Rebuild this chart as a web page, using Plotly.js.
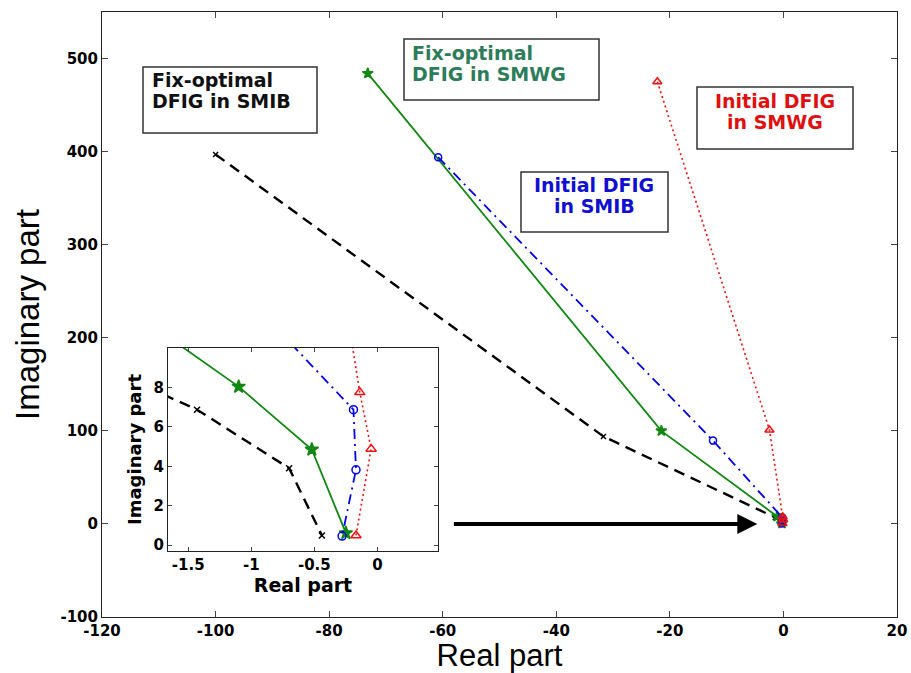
<!DOCTYPE html>
<html>
<head>
<meta charset="utf-8">
<script src="https://cdn.plot.ly/plotly-3.0.1.min.js"></script>
<style>
  html, body { margin: 0; padding: 0; background: #ffffff; }
  #chart { width: 911px; height: 673px; }
</style>
</head>
<body>
<div id="chart"></div>
<script>
// Root loci of the DFIG modes (real part, imaginary part)
const fixSmibRe  = [-100, -31.7, -1.43, -0.70, -0.44];
const fixSmibIm  = [397, 94, 6.87, 3.90, 0.49];
const fixSmwgRe  = [-73.2, -21.5, -1.10, -0.52, -0.25];
const fixSmwgIm  = [484, 100, 8.04, 4.85, 0.61];
const initSmibRe = [-60.8, -12.4, -0.19, -0.17, -0.28];
const initSmibIm = [394, 89.5, 6.87, 3.82, 0.46];
const initSmwgRe = [-22.2, -2.46, -0.14, -0.05, -0.17];
const initSmwgIm = [475, 101, 7.75, 4.88, 0.49];

// Tick values and labels
const mainXTicks = [-120, -100, -80, -60, -40, -20, 0, 20];
const mainXLabels = ["-120", "-100", "-80", "-60", "-40", "-20", "0", "20"];
const mainYTicks = [-100, 0, 100, 200, 300, 400, 500];
const mainYLabels = ["-100", "0", "100", "200", "300", "400", "500"];
const insetXTicks = [-1.5, -1, -0.5, 0];
const insetXLabels = ["-1.5", "-1", "-0.5", "0"];
const insetYTicks = [0, 2, 4, 6, 8];
const insetYLabels = ["0", "2", "4", "6", "8"];

// Box captions, one entry per line
const captionLines = [
  ["Fix-optimal", "DFIG in SMIB"],
  ["Fix-optimal", "DFIG in SMWG"],
  ["Initial DFIG", "in SMIB"],
  ["Initial DFIG", "in SMWG"]
];
const captionColors = ["#111111", "#2e7d5a", "#1010d0", "#e01010"];

// Page geometry (pixels) used to place boxes in paper coordinates
const W = 911, H = 673;
const M = { l: 102, r: 14, t: 12, b: 56 };
const PW = W - M.l - M.r, PH = H - M.t - M.b;
const px = v => (v - M.l) / PW;
const py = v => (H - M.b - v) / PH;

const styles = [
  { name: "Fix-optimal DFIG in SMIB", re: fixSmibRe, im: fixSmibIm, color: "#000000", width: 2.4, dash: "11px,7px",
    sym: "x-thin", mainSize: 5, insetSize: 6 },
  { name: "Fix-optimal DFIG in SMWG", re: fixSmwgRe, im: fixSmwgIm, color: "#118811", width: 1.8, dash: "solid",
    sym: "star", mainSize: 8, insetSize: 10 },
  { name: "Initial DFIG in SMIB", re: initSmibRe, im: initSmibIm, color: "#0000ee", width: 1.8, dash: "10px,5px,2px,5px",
    sym: "circle-open", mainSize: 7, insetSize: 8 },
  { name: "Initial DFIG in SMWG", re: initSmwgRe, im: initSmwgIm, color: "#ee1111", width: 1.6, dash: "2px,3px",
    sym: "triangle-up-open", mainSize: 8, insetSize: 9 }
];

const traces = [];
styles.forEach(s => {
  [["x", "y", s.mainSize], ["x2", "y2", s.insetSize]].forEach(([xa, ya, ms]) => {
    traces.push({
      type: "scatter", mode: "lines+markers", name: s.name, showlegend: false,
      x: s.re, y: s.im, xaxis: xa, yaxis: ya,
      line: { color: s.color, width: s.width, dash: s.dash },
      marker: { symbol: s.sym, size: ms, color: s.color, line: { color: s.color, width: 1.5 } }
    });
  });
});

const tickFont = { family: "DejaVu Sans", size: 15, color: "#000000", weight: "bold" };
const axisCommon = {
  showgrid: false, zeroline: false, showline: true, linecolor: "#222222", linewidth: 1,
  mirror: "ticks", ticks: "inside", tickcolor: "#444444", tickmode: "array"
};

// Box outlines (pixels) and the baselines of their two text lines
const boxes = [
  { x0: 143, y0: 67, x1: 317, y1: 133, tx: 152, base: [87, 108], align: "left" },
  { x0: 404, y0: 39, x1: 599, y1: 100, tx: 412, base: [60, 81], align: "left" },
  { x0: 521, y0: 172, x1: 668, y1: 232, tx: 594, base: [192, 213], align: "center" },
  { x0: 697, y0: 87, x1: 853, y1: 149, tx: 775, base: [108, 129], align: "center" }
];
const capFont = 19;
const descent = 0.236 * capFont;

const shapes = boxes.map(b => ({
  type: "rect", xref: "paper", yref: "paper",
  x0: px(b.x0), x1: px(b.x1), y0: py(b.y1), y1: py(b.y0),
  line: { color: "#333333", width: 1.5 }, fillcolor: "rgba(255,255,255,0)"
}));

const annotations = [];
boxes.forEach((b, i) => {
  captionLines[i].forEach((line, k) => {
    annotations.push({
      xref: "paper", yref: "paper", x: px(b.tx), y: py(b.base[k] + descent),
      xanchor: b.align === "left" ? "left" : "center", yanchor: "bottom",
      align: b.align, showarrow: false, borderpad: 0, borderwidth: 0,
      text: line,
      font: { family: "DejaVu Sans", size: capFont, color: captionColors[i], weight: "bold" }
    });
  });
});

// Arrow pointing from the inset toward the cluster of roots at the origin
annotations.push({
  xref: "x", yref: "y", axref: "x", ayref: "y",
  x: -4.6, y: 0, ax: -58.3, ay: 0, text: "",
  showarrow: true, arrowhead: 2, arrowsize: 1, arrowwidth: 4, arrowcolor: "#000000"
});

const layout = {
  width: W, height: H,
  margin: M,
  paper_bgcolor: "#ffffff", plot_bgcolor: "#ffffff",
  showlegend: false,
  xaxis: Object.assign({}, axisCommon, {
    range: [-120, 20], tickvals: mainXTicks, ticktext: mainXLabels, ticklen: 6,
    tickfont: tickFont, domain: [0, 1], anchor: "y",
    title: { text: "Real part", standoff: 3, font: { family: "Liberation Sans", size: 31, color: "#000000" } }
  }),
  yaxis: Object.assign({}, axisCommon, {
    range: [-100, 550], tickvals: mainYTicks, ticktext: mainYLabels, ticklen: 6,
    tickfont: tickFont, domain: [0, 1], anchor: "x",
    title: { text: "Imaginary part", standoff: 10, font: { family: "Liberation Sans", size: 33, color: "#000000" } }
  }),
  xaxis2: Object.assign({}, axisCommon, {
    range: [-1.66, 0.48], tickvals: insetXTicks, ticktext: insetXLabels, ticklen: 4,
    tickfont: tickFont, domain: [px(168), px(438)], anchor: "y2",
    title: { text: "Real part", standoff: 2, font: { family: "DejaVu Sans", size: 19, color: "#000000", weight: "bold" } }
  }),
  yaxis2: Object.assign({}, axisCommon, {
    range: [-0.3, 10], tickvals: insetYTicks, ticktext: insetYLabels, ticklen: 4,
    tickfont: tickFont, domain: [py(551), py(348)], anchor: "x2",
    title: { text: "Imaginary part", standoff: 7, font: { family: "DejaVu Sans", size: 18, color: "#000000", weight: "bold" } }
  }),
  shapes: shapes,
  annotations: annotations
};

Plotly.newPlot("chart", traces, layout, { staticPlot: true, displayModeBar: false });
</script>
</body>
</html>
